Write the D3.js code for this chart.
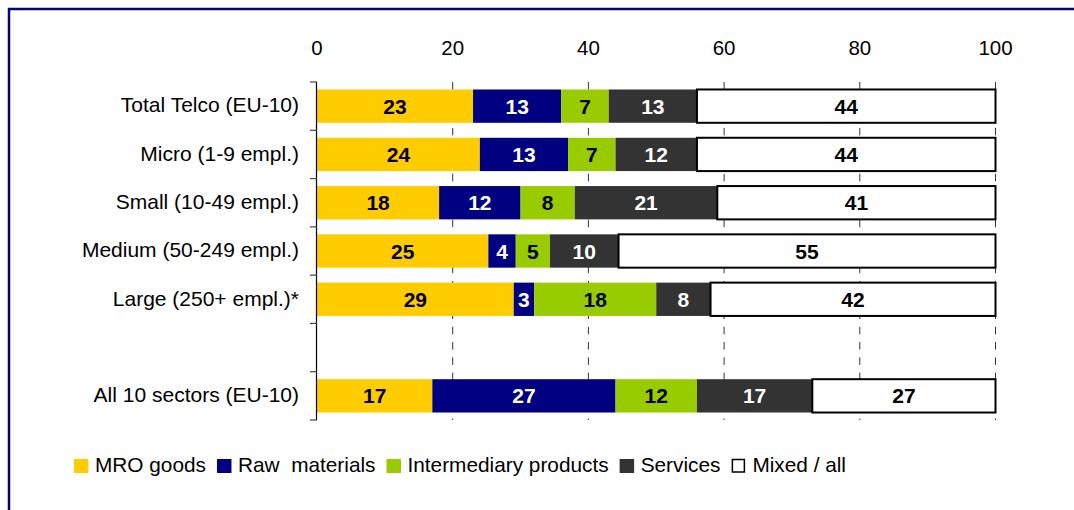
<!DOCTYPE html>
<html>
<head>
<meta charset="utf-8">
<script src="https://cdn.jsdelivr.net/npm/d3@7"></script>
<style>
  html, body { margin: 0; padding: 0; background: #fff; }
  svg { display: block; }
  text { font-family: "Liberation Sans", Arial, sans-serif; }
</style>
</head>
<body>
<svg id="chart" width="1074" height="510"></svg>
<script>
// Purchase categories by enterprise size (shares in %)
const categories = [
  "Total Telco (EU-10)",
  "Micro (1-9 empl.)",
  "Small (10-49 empl.)",
  "Medium (50-249 empl.)",
  "Large (250+ empl.)*",
  "",
  "All 10 sectors (EU-10)"
];
const seriesNames = ["MRO goods", "Raw  materials", "Intermediary products", "Services", "Mixed / all"];
const mroGoods      = [23, 24, 18, 25, 29, null, 17];
const rawMaterials  = [13, 13, 12, 4, 3, null, 27];
const intermediary  = [7, 7, 8, 5, 18, null, 12];
const services      = [13, 12, 21, 10, 8, null, 17];
const mixedAll      = [44, 44, 41, 55, 42, null, 27];
const xTicks = [0, 20, 40, 60, 80, 100];

const seriesColors = ["#FFCC00", "#000080", "#99CC00", "#333333", "#FFFFFF"];
const labelColors  = ["#000", "#fff", "#000", "#fff", "#000"];

const svg = d3.select("#chart");

// outer frame
svg.append("rect")
  .attr("x", 9).attr("y", 9)
  .attr("width", 1200).attr("height", 700)
  .attr("fill", "none").attr("stroke", "#000080").attr("stroke-width", 2.5);

const x = d3.scaleLinear().domain([0, 100]).range([317, 995.5]);
const y = d3.scaleBand().domain(d3.range(categories.length)).range([82, 420]).paddingInner(0.31).paddingOuter(0.155);
const bandStep = y.step();

// dashed vertical grid
svg.append("g").selectAll("line")
  .data(xTicks.filter(t => t > 0))
  .join("line")
  .attr("x1", d => x(d)).attr("x2", d => x(d))
  .attr("y1", 82).attr("y2", 420)
  .attr("stroke", "#333").attr("stroke-width", 1)
  .attr("stroke-dasharray", "7.5,7.8");

// top value labels
svg.append("g").selectAll("text")
  .data(xTicks)
  .join("text")
  .attr("x", d => x(d)).attr("y", 54.5)
  .attr("text-anchor", "middle")
  .attr("font-size", "20.5px").attr("fill", "#000")
  .text(d => d);

// 100% stacked layout: each segment is its share of the row total
const table = categories.map((c, i) => ({
  row: i,
  s0: mroGoods[i], s1: rawMaterials[i], s2: intermediary[i], s3: services[i], s4: mixedAll[i]
})).filter(d => d.s0 != null);
const keys = ["s0", "s1", "s2", "s3", "s4"];
const stacked = d3.stack().keys(keys).offset(d3.stackOffsetExpand)(table);

const segs = stacked.flatMap((layer, k) => layer.map(p => ({
  row: p.data.row, k, v: p.data[keys[k]], x0: p[0] * 100, x1: p[1] * 100
})));

const segG = svg.append("g");
segG.selectAll("rect")
  .data(segs)
  .join("rect")
  .attr("x", d => x(d.x0))
  .attr("y", d => y(d.row))
  .attr("width", d => x(d.x1) - x(d.x0))
  .attr("height", y.bandwidth())
  .attr("fill", d => seriesColors[d.k])
  .attr("stroke", d => d.k === 4 ? "#000" : "none")
  .attr("stroke-width", 2);

segG.selectAll("text")
  .data(segs)
  .join("text")
  .attr("x", d => (x(d.x0) + x(d.x1)) / 2)
  .attr("y", d => y(d.row) + y.bandwidth() / 2)
  .attr("dy", "0.36em")
  .attr("text-anchor", "middle")
  .attr("font-size", "21px").attr("font-weight", "bold")
  .attr("fill", d => labelColors[d.k])
  .text(d => d.v);

// category axis on the left
const axisG = svg.append("g");
axisG.append("line")
  .attr("x1", 316.5).attr("x2", 316.5)
  .attr("y1", 82).attr("y2", 420)
  .attr("stroke", "#000").attr("stroke-width", 1.2);
axisG.selectAll("line.tick")
  .data(d3.range(categories.length + 1))
  .join("line")
  .attr("class", "tick")
  .attr("x1", 310).attr("x2", 317)
  .attr("y1", i => 82 + i * bandStep).attr("y2", i => 82 + i * bandStep)
  .attr("stroke", "#444").attr("stroke-width", 1.2);
axisG.selectAll("text")
  .data(categories)
  .join("text")
  .attr("x", 299)
  .attr("y", (d, i) => y(i) + y.bandwidth() / 2)
  .attr("dy", "0.3em")
  .attr("text-anchor", "end")
  .attr("font-size", "21px").attr("fill", "#000")
  .text(d => d);

// legend
const legend = svg.append("g");
let lx = 74;
seriesNames.forEach((name, k) => {
  const isWhite = k === 4;
  legend.append("rect")
    .attr("x", isWhite ? lx + 1 : lx).attr("y", isWhite ? 459.5 : 459)
    .attr("width", isWhite ? 12 : 14.5).attr("height", isWhite ? 12.5 : 14)
    .attr("fill", seriesColors[k])
    .attr("stroke", isWhite ? "#000" : "none")
    .attr("stroke-width", 1.5);
  const t = legend.append("text")
    .attr("x", lx + 21).attr("y", 472)
    .attr("font-size", "20.8px").attr("fill", "#000")
    .style("white-space", "pre")
    .text(name);
  lx += 21 + t.node().getComputedTextLength() + 11;
});
</script>
</body>
</html>
